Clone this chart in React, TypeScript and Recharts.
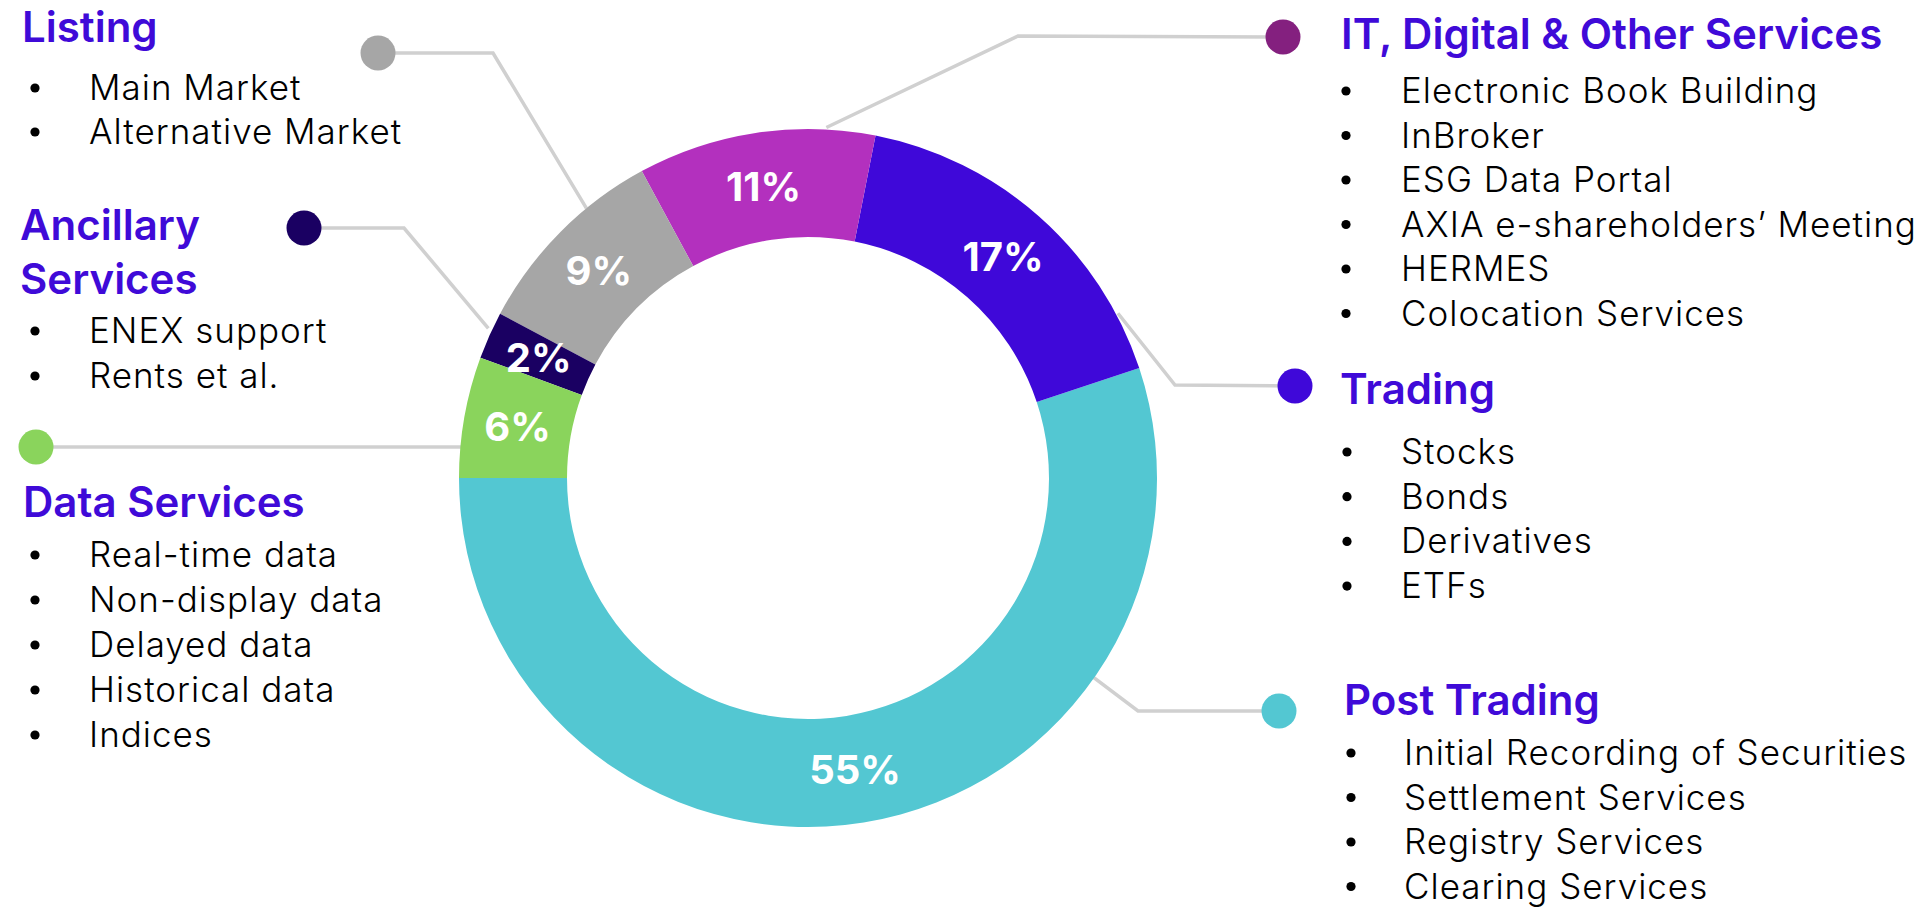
import React from "react";
import { PieChart, Pie, Cell, Customized } from "recharts";

// ---------- data ----------
const categories = [
  "Post Trading",
  "Trading",
  "IT, Digital & Other Services",
  "Listing",
  "Ancillary Services",
  "Data Services",
];
const shares = [55.1, 16.8, 11.0, 9.3, 2.2, 5.6];
const shareLabels = ["55%", "17%", "11%", "9%", "2%", "6%"];

const listingItems = ["Main Market", "Alternative Market"];
const ancillaryItems = ["ENEX support", "Rents et al."];
const dataServiceItems = ["Real-time data", "Non-display data", "Delayed data", "Historical data", "Indices"];
const itItems = [
  "Electronic Book Building",
  "InBroker",
  "ESG Data Portal",
  "AXIA e-shareholders’ Meeting",
  "HERMES",
  "Colocation Services",
];
const tradingItems = ["Stocks", "Bonds", "Derivatives", "ETFs"];
const postTradingItems = [
  "Initial Recording of Securities",
  "Settlement Services",
  "Registry Services",
  "Clearing Services",
];

// ---------- styling ----------
const sliceColors = ["#53C7D2", "#3F08D9", "#B330BE", "#A6A6A6", "#1A0062", "#8AD45C"];
const TITLE_COLOR = "#3F0AD8";
const LINE_COLOR = "#D0D0D0";
const FONT = "Inter, 'Noto Sans', sans-serif";

const W = 1927;
const H = 909;
const CX = 808;
const CY = 478;
const R_IN = 241;
const R_OUT = 349;

const RAD = Math.PI / 180;
const polar = (angle: number, r: number) => ({
  x: CX + r * Math.cos(-angle * RAD),
  y: CY + r * Math.sin(-angle * RAD),
});

const pieData = categories.map((name, i) => ({ name, value: shares[i], label: shareLabels[i] }));

type Callout = {
  dot: [number, number];
  dotColor: string;
  elbow: [number, number] | null;
  endAngle: number;
  endR: number;
  endY?: number;
  endX?: number;
};

const callouts: Callout[] = [
  { dot: [378, 53], dotColor: "#A6A6A6", elbow: [493, 53], endAngle: 129.4, endR: 349 },
  { dot: [1283, 37], dotColor: "#84207F", elbow: [1018, 36], endAngle: 87, endR: 351 },
  { dot: [304, 228], dotColor: "#1A0062", elbow: [404, 228], endAngle: 154.9, endR: 353 },
  { dot: [1295, 386], dotColor: "#3F08D9", elbow: [1175, 385], endAngle: 28, endR: 351 },
  { dot: [1279, 711], dotColor: "#53C7D2", elbow: [1138, 711], endAngle: -34, endR: 243 },
  { dot: [36, 447], dotColor: "#8AD45C", elbow: null, endAngle: 0, endR: 0, endX: 470, endY: 447 },
];

type Block = {
  titles: string[];
  titleX: number;
  titleY: number[];
  items: string[];
  bulletX: number;
  textX: number;
  firstY: number;
  step: number;
};

const blocks: Block[] = [
  { titles: ["Listing"], titleX: 22, titleY: [42], items: listingItems, bulletX: 35, textX: 89, firstY: 100, step: 44 },
  { titles: ["Ancillary", "Services"], titleX: 20, titleY: [240, 294], items: ancillaryItems, bulletX: 35, textX: 89, firstY: 343, step: 45 },
  { titles: ["Data Services"], titleX: 23, titleY: [517], items: dataServiceItems, bulletX: 35, textX: 89, firstY: 567, step: 45 },
  { titles: ["IT, Digital & Other Services"], titleX: 1341, titleY: [49], items: itItems, bulletX: 1346, textX: 1401, firstY: 103, step: 44.5 },
  { titles: ["Trading"], titleX: 1340, titleY: [404], items: tradingItems, bulletX: 1347, textX: 1401, firstY: 464, step: 44.7 },
  { titles: ["Post Trading"], titleX: 1344, titleY: [715], items: postTradingItems, bulletX: 1351, textX: 1404, firstY: 765, step: 44.5 },
];

const Leaders = () => (
  <g>
    {callouts.map((c, i) => {
      const end = c.endX !== undefined ? { x: c.endX, y: c.endY as number } : polar(c.endAngle, c.endR);
      const pts = [c.dot, ...(c.elbow ? [c.elbow] : []), [end.x, end.y]] as [number, number][];
      return (
        <polyline
          key={i}
          points={pts.map((p) => p.join(",")).join(" ")}
          fill="none"
          stroke={LINE_COLOR}
          strokeWidth={3.5}
          strokeLinejoin="miter"
        />
      );
    })}
  </g>
);

const Annotations = () => (
  <g>
    {callouts.map((c, i) => (
      <circle key={"d" + i} cx={c.dot[0]} cy={c.dot[1]} r={17.5} fill={c.dotColor} />
    ))}
    {blocks.map((b, bi) => (
      <g key={"b" + bi}>
        {b.titles.map((t, ti) => (
          <text
            key={ti}
            x={b.titleX}
            y={b.titleY[ti]}
            fill={TITLE_COLOR}
            fontFamily={FONT}
            fontWeight={600}
            fontSize={42}
            letterSpacing={0}
          >
            {t}
          </text>
        ))}
        {b.items.map((it, ii) => (
          <g key={ii}>
            <circle cx={b.bulletX} cy={b.firstY + ii * b.step - 12} r={4.6} fill="#000" />
            <text
              x={b.textX}
              y={b.firstY + ii * b.step}
              fill="#000"
              fontFamily={FONT}
              fontWeight={300}
              fontSize={35}
              letterSpacing={1}
            >
              {it}
            </text>
          </g>
        ))}
      </g>
    ))}
  </g>
);

const renderLabel = (props: any) => {
  const { cx, cy, midAngle, innerRadius, outerRadius, index } = props;
  const r = (innerRadius + outerRadius) / 2;
  const x = cx + r * Math.cos(-midAngle * RAD);
  const y = cy + r * Math.sin(-midAngle * RAD);
  return (
    <text
      x={x}
      y={y}
      fill="#fff"
      textAnchor="middle"
      dominantBaseline="central"
      fontFamily={FONT}
      fontWeight={700}
      fontSize={40}
    >
      {pieData[index].label}
    </text>
  );
};

export default function App() {
  return (
    <div style={{ position: "absolute", left: 0, top: 0, width: W, height: H, background: "#fff", overflow: "hidden" }}>
      <PieChart width={W} height={H} margin={{ top: 0, right: 0, bottom: 0, left: 0 }}>
        <Customized component={Leaders} />
        <Pie
          data={pieData}
          dataKey="value"
          nameKey="name"
          cx={CX}
          cy={CY}
          innerRadius={R_IN}
          outerRadius={R_OUT}
          startAngle={180}
          endAngle={540}
          stroke="none"
          isAnimationActive={false}
          label={renderLabel}
          labelLine={false}
        >
          {pieData.map((d, i) => (
            <Cell key={d.name} fill={sliceColors[i]} />
          ))}
        </Pie>
        <Customized component={Annotations} />
      </PieChart>
    </div>
  );
}
